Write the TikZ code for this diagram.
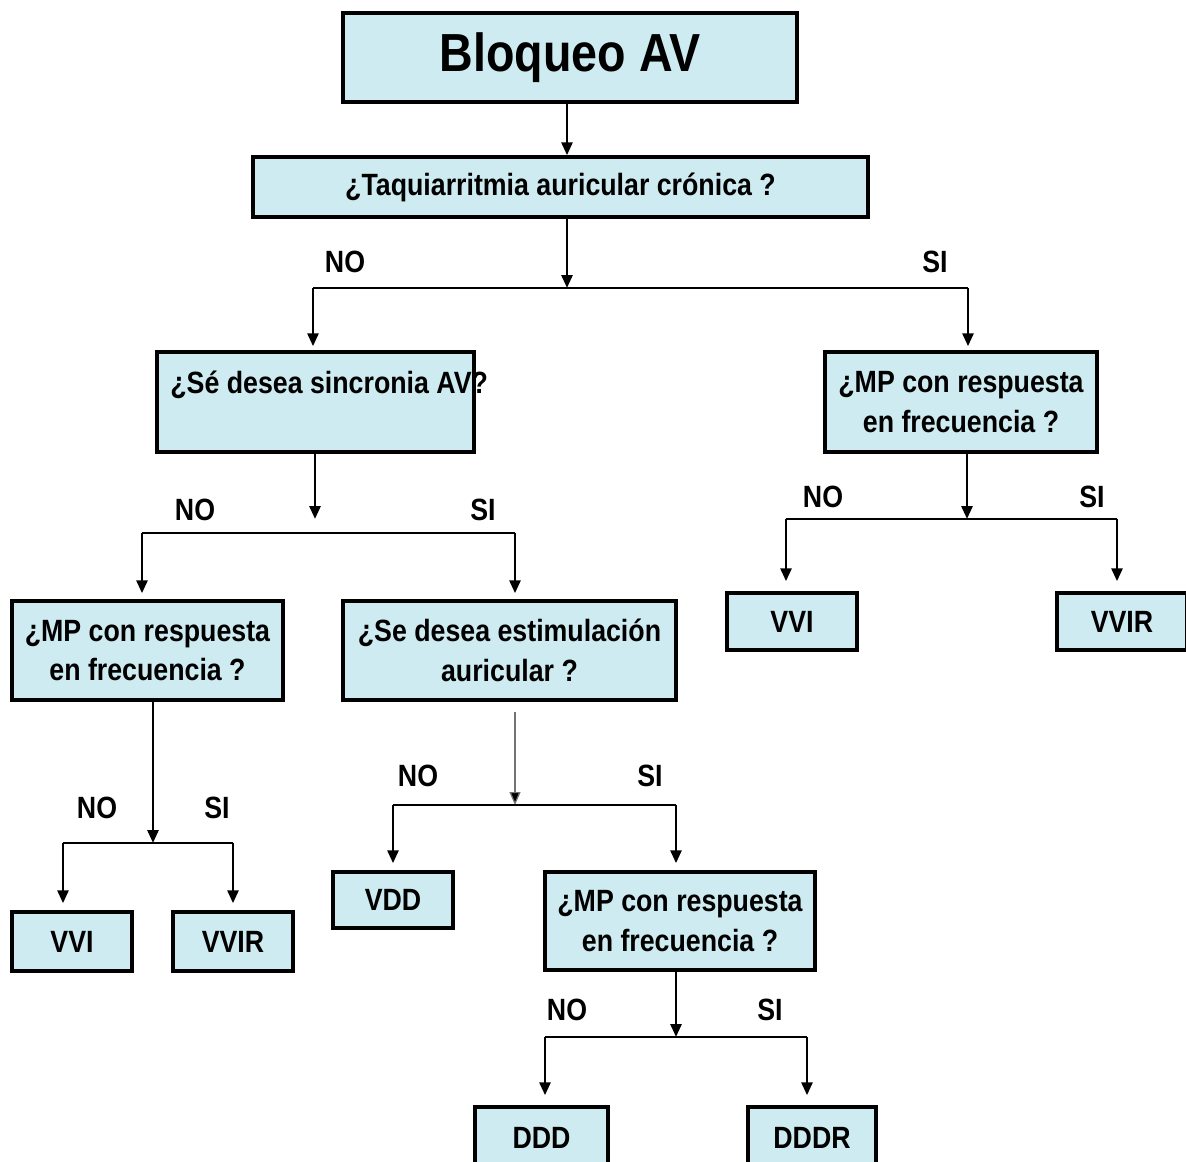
\documentclass[tikz,border=0pt]{standalone}
\usepackage{fontspec}
\setmainfont{Liberation Sans}[FakeStretch=0.87]
\usepackage{tikz}
\usetikzlibrary{arrows.meta,calc,positioning}
\definecolor{boxfill}{RGB}{205,235,240}
\newcommand{\boxfont}{\fontsize{17.5}{22.5}\selectfont\bfseries}
\newcommand{\bigboxfont}{\fontsize{30.5}{34}\selectfont\bfseries}
\tikzset{%
	block/.style    = {draw, rectangle, line width=2pt, fill=boxfill, inner sep=0pt, font=\boxfont, align=center}, % Box
	answer/.style   = {font=\boxfont, inner sep=0pt}, % NO / SI
	link/.style     = {line width=1.6pt}, % Branch line
	arrow/.style    = {line width=1.6pt, -{Triangle[length=0.26cm,width=0.22cm]}},
	thinarrow/.style= {line width=0.7pt, draw=black!55, -{Triangle[length=0.26cm,width=0.22cm,fill=black]}},
	waypoint/.style = {coordinate},
}
\begin{document}
\begin{tikzpicture}[x=0.02cm, y=-0.02cm]
	\clip (0,0) rectangle (1186,1162);
	\fill[white] (0,0) rectangle (1186,1162);
	% boxes
	\node[block, font=\bigboxfont, minimum width=9.08cm, minimum height=1.78cm] (top) at (570,57.5) {Bloqueo AV};
	\node[block, minimum width=12.3cm, minimum height=1.2cm] (taq) at (560.5,187) {¿Taquiarritmia auricular crónica ?};
	\node[block, minimum width=6.34cm, minimum height=2cm] (sinc) at (315.5,402) {};
	\node[answer, anchor=west] (sinct) at (170,385) {¿Sé desea sincronia AV?};
	\node[block, minimum width=5.44cm, minimum height=2cm] (mpR) at (961,402) {¿MP con respuesta\\en frecuencia ?};
	\node[block, minimum width=2.6cm, minimum height=1.14cm] (vviR) at (792,621.5) {VVI};
	\node[block, minimum width=2.6cm, minimum height=1.14cm] (vvirR) at (1122,621.5) {VVIR};
	\node[block, minimum width=5.42cm, minimum height=1.98cm] (mpL) at (147.5,650.5) {¿MP con respuesta\\en frecuencia ?};
	\node[block, minimum width=6.66cm, minimum height=1.98cm] (est) at (509.5,650.5) {¿Se desea estimulación\\auricular ?};
	\node[block, minimum width=2.4cm, minimum height=1.18cm] (vviL) at (72,941.5) {VVI};
	\node[block, minimum width=2.4cm, minimum height=1.18cm] (vvirL) at (233,941.5) {VVIR};
	\node[block, minimum width=2.4cm, minimum height=1.12cm] (vdd) at (393,900) {VDD};
	\node[block, minimum width=5.4cm, minimum height=1.96cm] (mpB) at (680,921) {¿MP con respuesta\\en frecuencia ?};
	\node[block, minimum width=2.66cm, minimum height=1.24cm] (ddd) at (541.5,1138) {DDD};
	\node[block, minimum width=2.56cm, minimum height=1.24cm] (dddr) at (812,1138) {DDDR};
	% branch points
	\coordinate (t1) at (567,288); \coordinate (l1) at (313,288); \coordinate (r1) at (968,288);
	\coordinate (t2) at (315,519); \coordinate (l2) at (142,533); \coordinate (r2) at (515,533);
	\coordinate (t3) at (967,519); \coordinate (l3) at (786,519); \coordinate (r3) at (1117,519);
	\coordinate (t4) at (153,843); \coordinate (l4) at (63,843);  \coordinate (r4) at (233,843);
	\coordinate (s5) at (515,712); \coordinate (t5) at (515,805); \coordinate (l5) at (393,805); \coordinate (r5) at (676,805);
	\coordinate (t6) at (676,1037); \coordinate (l6) at (545,1037); \coordinate (r6) at (807,1037);
	% labels
	\node[answer] (no1) at (345,262) {NO};  \node[answer] (si1) at (935,262) {SI};
	\node[answer] (no2) at (195,510) {NO};  \node[answer] (si2) at (483,510) {SI};
	\node[answer] (no3) at (823,497) {NO};  \node[answer] (si3) at (1092,497) {SI};
	\node[answer] (no4) at (97,808) {NO};   \node[answer] (si4) at (217,808) {SI};
	\node[answer] (no5) at (418,776) {NO};  \node[answer] (si5) at (650,776) {SI};
	\node[answer] (no6) at (567,1010) {NO}; \node[answer] (si6) at (770,1010) {SI};
	% connectors
	\draw[arrow] (top.south -| t1) -- (taq.north -| t1);
	\draw[arrow] (taq.south -| t1) -- (t1);
	\draw[link] (l1) -- (r1);
	\draw[arrow, shorten >=0.08cm] (l1) -- (sinc.north -| l1);
	\draw[arrow, shorten >=0.08cm] (r1) -- (mpR.north -| r1);
	\draw[arrow] (sinc.south -| t2) -- (t2);
	\draw[link] (l2) -- (r2);
	\draw[arrow, shorten >=0.12cm] (l2) -- (mpL.north -| l2);
	\draw[arrow, shorten >=0.12cm] (r2) -- (est.north -| r2);
	\draw[arrow] (mpR.south -| t3) -- (t3);
	\draw[link] (l3) -- (r3);
	\draw[arrow, shorten >=0.2cm] (l3) -- (vviR.north -| l3);
	\draw[arrow, shorten >=0.2cm] (r3) -- (vvirR.north -| r3);
	\draw[arrow] (mpL.south -| t4) -- (t4);
	\draw[link] (l4) -- (r4);
	\draw[arrow, shorten >=0.14cm] (l4) -- (vviL.north -| l4);
	\draw[arrow, shorten >=0.14cm] (r4) -- (vvirL.north -| r4);
	\draw[thinarrow] (s5) -- (t5);
	\draw[link] (l5) -- (r5);
	\draw[arrow, shorten >=0.14cm] (l5) -- (vdd.north -| l5);
	\draw[arrow, shorten >=0.14cm] (r5) -- (mpB.north -| r5);
	\draw[arrow] (mpB.south -| t6) -- (t6);
	\draw[link] (l6) -- (r6);
	\draw[arrow, shorten >=0.2cm] (l6) -- (ddd.north -| l6);
	\draw[arrow, shorten >=0.2cm] (r6) -- (dddr.north -| r6);
\end{tikzpicture}
\end{document}
